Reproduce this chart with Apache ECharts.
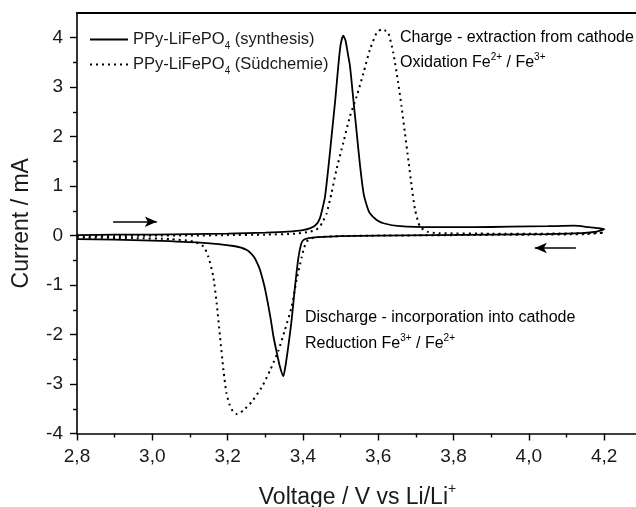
<!DOCTYPE html>
<html><head><meta charset="utf-8">
<script src="https://cdn.jsdelivr.net/npm/echarts@6/dist/echarts.min.js"></script>
<style>html,body{margin:0;padding:0;background:#fff}#c{width:636px;height:507px}</style>
</head><body><div id="c"></div>
<script>
// PPy-LiFePO4 (synthesis) – cyclic voltammogram, voltage (V) and current (mA), in scan order
const synthV = [2.80,2.90,3.00,3.10,3.20,3.30,3.36,3.40,3.42,3.435,3.445,3.452,3.459,3.468,3.477,3.486,3.494,3.500,3.507,3.513,3.520,3.525,3.534,3.543,3.552,3.561,3.570,3.578,3.595,3.614,3.658,3.75,3.85,3.95,4.05,4.12,4.16,4.185,4.20,
  4.18,4.14,4.05,3.90,3.75,3.60,3.50,3.44,3.415,3.401,3.395,3.388,3.379,3.370,3.361,3.354,3.348,3.339,3.331,3.322,3.315,3.307,3.298,3.286,3.279,3.270,3.251,3.216,3.127,3.00,2.90,2.80];
const synthI = [0.01,0.02,0.02,0.03,0.04,0.06,0.08,0.11,0.15,0.22,0.35,0.55,0.80,1.40,2.07,2.75,3.43,3.85,4.04,3.95,3.65,3.43,2.75,2.07,1.40,0.86,0.60,0.45,0.32,0.25,0.19,0.17,0.17,0.18,0.19,0.20,0.17,0.15,0.13,
  0.08,0.05,0.03,0.02,0.01,0.00,-0.01,-0.03,-0.05,-0.09,-0.18,-0.45,-1.03,-1.71,-2.25,-2.62,-2.84,-2.65,-2.38,-2.05,-1.71,-1.37,-1.03,-0.69,-0.56,-0.43,-0.29,-0.21,-0.14,-0.10,-0.08,-0.07];
// PPy-LiFePO4 (Südchemie)
const sudV = [2.80,2.90,3.00,3.10,3.20,3.30,3.38,3.42,3.435,3.445,3.454,3.463,3.476,3.489,3.507,3.525,3.543,3.561,3.578,3.596,3.609,3.620,3.627,3.640,3.653,3.662,3.671,3.680,3.689,3.698,3.711,3.73,3.76,3.90,4.05,4.15,4.20,
  4.15,4.00,3.80,3.60,3.50,3.44,3.42,3.41,3.403,3.397,3.383,3.370,3.352,3.335,3.313,3.291,3.264,3.242,3.226,3.214,3.206,3.197,3.189,3.180,3.171,3.162,3.149,3.136,3.109,3.047,2.95,2.80];
const sudI = [-0.02,-0.01,0.00,0.00,0.01,0.02,0.04,0.08,0.12,0.18,0.30,0.45,0.86,1.33,1.87,2.41,2.82,3.29,3.76,4.10,4.17,4.14,4.10,3.70,3.09,2.61,2.07,1.53,0.99,0.52,0.18,0.08,0.05,0.04,0.04,0.05,0.06,
  0.03,0.02,0.01,0.00,-0.01,-0.03,-0.06,-0.12,-0.25,-0.43,-0.90,-1.44,-1.91,-2.32,-2.72,-3.06,-3.36,-3.53,-3.61,-3.55,-3.43,-3.19,-2.72,-2.05,-1.37,-0.83,-0.43,-0.22,-0.12,-0.07,-0.05,-0.04];

const xTickValues = [2.8,3.0,3.2,3.4,3.6,3.8,4.0,4.2];
const xTickLabels = ['2,8','3,0','3,2','3,4','3,6','3,8','4,0','4,2'];
const xMinorTicks = [2.9,3.1,3.3,3.5,3.7,3.9,4.1];
const yTickValues = [-4,-3,-2,-1,0,1,2,3,4];
const yTickLabels = ['-4','-3','-2','-1','0','1','2','3','4'];
const yMinorTicks = [-3.5,-2.5,-1.5,-0.5,0.5,1.5,2.5,3.5];
const seriesNames = ['PPy-LiFePO4 (synthesis)','PPy-LiFePO4 (Südchemie)'];
// scan-direction arrows [startV, startI, endV, endI]
const arrowForward = [2.896, 0.28, 3.012, 0.28];
const arrowBackward = [4.125, -0.25, 4.016, -0.25];

const xMin = 2.8, xMax = 4.29, yMin = -4, yMax = 4.5;
const FONT = 'Liberation Sans, Arial, Helvetica, sans-serif';
const INK = '#1a1a1a';

function zip(a, b) { return a.map((v, i) => [v, b[i]]); }
function lab(vals, labels) {
  return v => { const i = vals.findIndex(t => Math.abs(t - v) < 1e-6); return i < 0 ? '' : labels[i]; };
}
const richCommon = {
  a: { fontSize: 16, fontFamily: FONT, color: INK },
  sub: { fontSize: 10, fontFamily: FONT, color: INK, verticalAlign: 'bottom', padding: [0, 0, -3, 0] },
  sup: { fontSize: 10, fontFamily: FONT, color: INK, verticalAlign: 'top', padding: [-3, 0, 0, 0] }
};
const richLegend = {
  a: { fontSize: 16.5, fontFamily: FONT, color: INK },
  sub: { fontSize: 10, fontFamily: FONT, color: INK, verticalAlign: 'bottom', padding: [0, 0, -3, 0] }
};

const chart = echarts.init(document.getElementById('c'), null, { renderer: 'canvas' });
chart.setOption({
  animation: false,
  backgroundColor: '#fff',
  grid: { left: 77, right: -2, top: 13, bottom: 73.5, containLabel: false, outerBoundsMode: 'none' },
  legend: {
    left: 84, top: 26, orient: 'vertical', itemWidth: 38, itemHeight: 14, itemGap: 5,
    data: seriesNames,
    itemStyle: { opacity: 0 },
    formatter: n => n.replace('PO4', 'PO{sub|4}').replace(/^(.*)\{sub\|4\}(.*)$/, '{a|$1}{sub|4}{a|$2}'),
    textStyle: { fontSize: 16.5, fontFamily: FONT, color: INK, rich: richLegend }
  },
  xAxis: [
    {
      type: 'value', min: xMin, max: xMax, position: 'bottom',
      axisLine: { show: true, onZero: false, lineStyle: { color: '#000', width: 1.6 } },
      axisTick: { show: true, length: 7, customValues: xTickValues, lineStyle: { color: '#000', width: 1.4 } },
      axisLabel: { customValues: xTickValues, formatter: lab(xTickValues, xTickLabels), margin: 14, fontSize: 19, fontFamily: FONT, color: INK },
      splitLine: { show: false },
      name: 'Voltage / V vs Li/Li{sup|+}',
      nameLocation: 'middle', nameGap: 53,
      nameTextStyle: { fontSize: 23, fontFamily: FONT, color: INK,
        rich: { sup: { fontSize: 14, fontFamily: FONT, color: INK, verticalAlign: 'top', padding: [-4, 0, 0, 0] } } }
    },
    {
      type: 'value', min: xMin, max: xMax, position: 'bottom',
      axisLine: { show: false, onZero: false },
      axisTick: { show: true, length: 4, customValues: xMinorTicks, lineStyle: { color: '#000', width: 1.4 } },
      axisLabel: { show: false }, splitLine: { show: false }
    },
    {
      type: 'value', min: xMin, max: xMax, position: 'top',
      axisLine: { show: true, onZero: false, lineStyle: { color: '#000', width: 2 } },
      axisTick: { show: false }, axisLabel: { show: false }, splitLine: { show: false }
    }
  ],
  yAxis: [
    {
      type: 'value', min: yMin, max: yMax, position: 'left',
      axisLine: { show: true, onZero: false, lineStyle: { color: '#000', width: 1.6 } },
      axisTick: { show: true, length: 7, customValues: yTickValues, lineStyle: { color: '#000', width: 1.4 } },
      axisLabel: { customValues: yTickValues, formatter: lab(yTickValues, yTickLabels), margin: 14, fontSize: 19, fontFamily: FONT, color: INK },
      splitLine: { show: false },
      name: 'Current / mA', nameLocation: 'middle', nameGap: 44,
      nameTextStyle: { fontSize: 23, fontFamily: FONT, color: INK }
    },
    {
      type: 'value', min: yMin, max: yMax, position: 'left',
      axisLine: { show: false, onZero: false },
      axisTick: { show: true, length: 4, customValues: yMinorTicks, lineStyle: { color: '#000', width: 1.4 } },
      axisLabel: { show: false }, splitLine: { show: false }
    }
  ],
  series: [
    {
      name: seriesNames[0], type: 'line', xAxisIndex: 0, yAxisIndex: 0,
      data: zip(synthV, synthI), showSymbol: false, symbol: 'none', smooth: 0.2,
      lineStyle: { color: '#000', width: 1.8 }, itemStyle: { color: '#000' },
      markLine: {
        silent: true, symbol: ['none', 'arrow'], symbolSize: [8, 12], label: { show: false },
        lineStyle: { color: '#000', width: 1.6, type: 'solid' },
        data: [
          [{ coord: [arrowForward[0], arrowForward[1]] }, { coord: [arrowForward[2], arrowForward[3]] }],
          [{ coord: [arrowBackward[0], arrowBackward[1]] }, { coord: [arrowBackward[2], arrowBackward[3]] }]
        ]
      }
    },
    {
      name: seriesNames[1], type: 'line', xAxisIndex: 0, yAxisIndex: 0,
      data: zip(sudV, sudI), showSymbol: false, symbol: 'none', smooth: 0.2,
      lineStyle: { color: '#000', width: 2, type: [2, 4] }, itemStyle: { color: '#000' }
    }
  ],
  graphic: [
    { type: 'text', left: 400, top: 30, style: { text: '{a|Charge - extraction from cathode}', rich: richCommon } },
    { type: 'text', left: 400, top: 52, style: { text: '{a|Oxidation Fe}{sup|2+}{a| / Fe}{sup|3+}', rich: richCommon } },
    { type: 'text', left: 305, top: 310, style: { text: '{a|Discharge - incorporation into cathode}', rich: richCommon } },
    { type: 'text', left: 305, top: 333, style: { text: '{a|Reduction Fe}{sup|3+}{a| / Fe}{sup|2+}', rich: richCommon } }
  ]
});
</script></body></html>
